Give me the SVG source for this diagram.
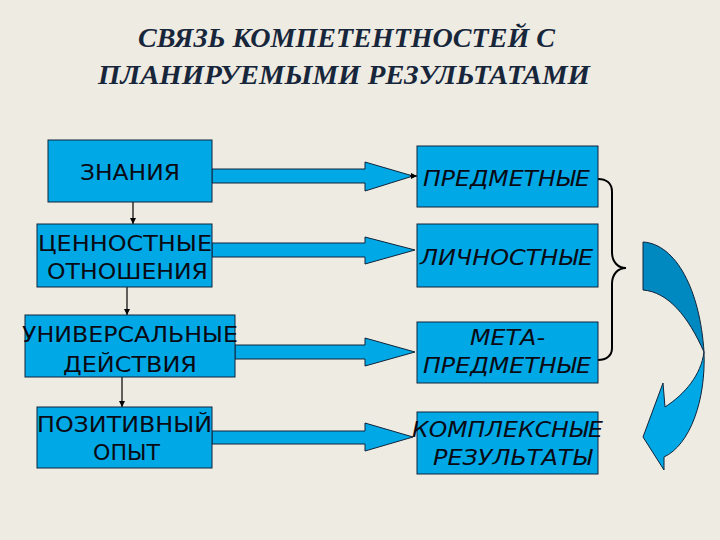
<svg xmlns="http://www.w3.org/2000/svg" width="720" height="540" viewBox="0 0 720 540">
<defs>
<style>
.box{fill:#00a8e6;stroke:#10243a;stroke-width:1}
.bt{font-family:"DejaVu Sans","Liberation Sans",sans-serif;font-size:21.5px;fill:#0a0a14}
.it{font-style:italic}
.title{font-family:"Liberation Serif","DejaVu Serif",serif;font-size:27px;font-weight:bold;font-style:italic;fill:#17263a}
.blk{fill:#00a8e6;stroke:#10243a;stroke-width:1}
.thin{stroke:#000;stroke-width:1.2;fill:none}
</style>
<marker id="ah" viewBox="0 0 10 10" refX="10" refY="5" markerWidth="6" markerHeight="6" orient="auto" markerUnits="userSpaceOnUse"><path d="M0,0 L10,5 L0,10 z" fill="#000"/></marker>
</defs>
<rect width="720" height="540" fill="#eeebe3"/>
<g id="title">
<text class="title" x="138" y="47" textLength="417" lengthAdjust="spacingAndGlyphs">СВЯЗЬ КОМПЕТЕНТНОСТЕЙ С</text>
<text class="title" x="98" y="84" textLength="492" lengthAdjust="spacingAndGlyphs">ПЛАНИРУЕМЫМИ РЕЗУЛЬТАТАМИ</text>
</g>
<g id="connectors">
<path class="blk" d="M212,169 H365 V162 L413,176 L365,191 V183 H212 z"/>
<line class="thin" x1="410" y1="176" x2="417" y2="176" marker-end="url(#ah)"/>
<path class="blk" d="M212,243 H365 V237 L415,250 L365,264 V257 H212 z"/>
<path class="blk" d="M235,345 H365 V338 L415,352 L365,366 V359 H235 z"/>
<path class="blk" d="M212,431 H365 V423 L413,437 L365,451 V444 H212 z"/>
<line class="thin" x1="133" y1="202" x2="133" y2="224" marker-end="url(#ah)"/>
<line class="thin" x1="127" y1="287" x2="127" y2="315" marker-end="url(#ah)"/>
<line class="thin" x1="122" y1="377" x2="122" y2="407" marker-end="url(#ah)"/>
<path d="M598,179 C606,179 612,183 612,192 V252 C612,262 618,268 626,268 C618,268 612,274 612,284 V348 C612,356 606,360 598,360" fill="none" stroke="#000" stroke-width="2"/>
<path d="M643,242 C676,244 700,290 704,352 C688,316 668,292 643,290 z" fill="#0088c0" stroke="#10243a" stroke-width="1"/>
<path d="M704,352 C706,400 690,445 664,457 L664,470 L643,437 L663,383 L665,407 C685,394 701,375 704,352 z" fill="#00a8e6" stroke="#10243a" stroke-width="1"/>
</g>
<g id="n-znaniya"><rect class="box" x="48" y="140" width="164" height="62"/><text class="bt" x="80" y="180" textLength="100" lengthAdjust="spacingAndGlyphs">ЗНАНИЯ</text></g>
<g id="n-cennostnye"><rect class="box" x="37" y="224" width="175" height="63"/><text class="bt" x="38" y="251" textLength="174" lengthAdjust="spacingAndGlyphs">ЦЕННОСТНЫЕ</text><text class="bt" x="47" y="279" textLength="161" lengthAdjust="spacingAndGlyphs">ОТНОШЕНИЯ</text></g>
<g id="n-universalnye"><rect class="box" x="25" y="315" width="210" height="62"/><text class="bt" x="22" y="342" textLength="216" lengthAdjust="spacingAndGlyphs">УНИВЕРСАЛЬНЫЕ</text><text class="bt" x="63" y="372" textLength="134" lengthAdjust="spacingAndGlyphs">ДЕЙСТВИЯ</text></g>
<g id="n-pozitivnyi"><rect class="box" x="37" y="407" width="175" height="61"/><text class="bt" x="37" y="432" textLength="175" lengthAdjust="spacingAndGlyphs">ПОЗИТИВНЫЙ</text><text class="bt" x="93" y="460" textLength="67" lengthAdjust="spacingAndGlyphs">ОПЫТ</text></g>
<g id="n-predmetnye"><rect class="box" x="417" y="146" width="181" height="61"/><text class="bt it" x="423" y="186" textLength="167" lengthAdjust="spacingAndGlyphs">ПРЕДМЕТНЫЕ</text></g>
<g id="n-lichnostnye"><rect class="box" x="417" y="224" width="181" height="63"/><text class="bt it" x="420" y="265" textLength="173" lengthAdjust="spacingAndGlyphs">ЛИЧНОСТНЫЕ</text></g>
<g id="n-meta"><rect class="box" x="417" y="322" width="181" height="61"/><text class="bt it" x="470" y="345" textLength="75" lengthAdjust="spacingAndGlyphs">МЕТА-</text><text class="bt it" x="423" y="373" textLength="168" lengthAdjust="spacingAndGlyphs">ПРЕДМЕТНЫЕ</text></g>
<g id="n-kompleksnye"><rect class="box" x="417" y="412" width="181" height="62"/><text class="bt it" x="412" y="437" textLength="191" lengthAdjust="spacingAndGlyphs">КОМПЛЕКСНЫЕ</text><text class="bt it" x="433" y="465" textLength="159" lengthAdjust="spacingAndGlyphs">РЕЗУЛЬТАТЫ</text></g>
</svg>
